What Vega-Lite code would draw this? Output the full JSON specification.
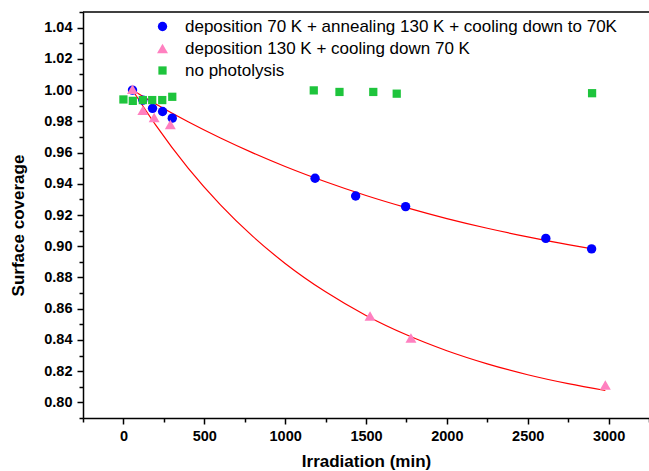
{
  "$schema": "https://vega.github.io/schema/vega-lite/v6.json",
  "autosize": "none",
  "width": 566,
  "height": 406,
  "padding": {"left": 83, "top": 12, "right": 0, "bottom": 53},
  "background": "white",
  "config": {
    "view": {"stroke": null},
    "font": "Liberation Sans",
    "axis": {
      "grid": false,
      "domainColor": "black",
      "domainWidth": 1.5,
      "tickColor": "black",
      "tickWidth": 1.5,
      "labelFont": "Liberation Sans",
      "labelFontWeight": "bold",
      "labelFontSize": 14.5,
      "labelColor": "black",
      "titleFont": "Liberation Sans",
      "titleFontWeight": "bold",
      "titleFontSize": 17,
      "titleColor": "black"
    }
  },
  "datasets": {
    "points": [
      {"series": "A", "x": 56, "y": 1.0},
      {"series": "A", "x": 120, "y": 0.9936},
      {"series": "A", "x": 180, "y": 0.9883},
      {"series": "A", "x": 242, "y": 0.9863},
      {"series": "A", "x": 302, "y": 0.982},
      {"series": "A", "x": 1185, "y": 0.9435},
      {"series": "A", "x": 1436, "y": 0.9322},
      {"series": "A", "x": 1745, "y": 0.9254},
      {"series": "A", "x": 2612, "y": 0.905},
      {"series": "A", "x": 2895, "y": 0.8983},
      {"series": "B", "x": 56, "y": 1.0006},
      {"series": "B", "x": 120, "y": 0.987},
      {"series": "B", "x": 190, "y": 0.9825},
      {"series": "B", "x": 290, "y": 0.978},
      {"series": "B", "x": 1525, "y": 0.8553},
      {"series": "B", "x": 1778, "y": 0.8412},
      {"series": "B", "x": 2980, "y": 0.8112},
      {"series": "C", "x": 0, "y": 0.994},
      {"series": "C", "x": 58, "y": 0.9931},
      {"series": "C", "x": 120, "y": 0.9936},
      {"series": "C", "x": 178, "y": 0.9936},
      {"series": "C", "x": 240, "y": 0.9936},
      {"series": "C", "x": 302, "y": 0.9957},
      {"series": "C", "x": 1177, "y": 0.9998},
      {"series": "C", "x": 1336, "y": 0.9988},
      {"series": "C", "x": 1545, "y": 0.9988},
      {"series": "C", "x": 1690, "y": 0.9977},
      {"series": "C", "x": 2898, "y": 0.998}
    ],
    "fits": [
      {"curve": "A", "x": 50, "y": 1.0004},
      {"curve": "A", "x": 200, "y": 0.9911},
      {"curve": "A", "x": 400, "y": 0.9797},
      {"curve": "A", "x": 600, "y": 0.9693},
      {"curve": "A", "x": 800, "y": 0.9598},
      {"curve": "A", "x": 1000, "y": 0.9511},
      {"curve": "A", "x": 1250, "y": 0.9413},
      {"curve": "A", "x": 1500, "y": 0.9325},
      {"curve": "A", "x": 1750, "y": 0.9247},
      {"curve": "A", "x": 2000, "y": 0.9177},
      {"curve": "A", "x": 2250, "y": 0.9115},
      {"curve": "A", "x": 2500, "y": 0.906},
      {"curve": "A", "x": 2750, "y": 0.901},
      {"curve": "A", "x": 2900, "y": 0.8983},
      {"curve": "B", "x": 50, "y": 1.001},
      {"curve": "B", "x": 200, "y": 0.9775},
      {"curve": "B", "x": 400, "y": 0.95},
      {"curve": "B", "x": 600, "y": 0.9265},
      {"curve": "B", "x": 800, "y": 0.9063},
      {"curve": "B", "x": 1000, "y": 0.889},
      {"curve": "B", "x": 1250, "y": 0.8708},
      {"curve": "B", "x": 1500, "y": 0.8557},
      {"curve": "B", "x": 1750, "y": 0.8433},
      {"curve": "B", "x": 2000, "y": 0.8331},
      {"curve": "B", "x": 2250, "y": 0.8247},
      {"curve": "B", "x": 2500, "y": 0.8177},
      {"curve": "B", "x": 2750, "y": 0.812},
      {"curve": "B", "x": 2980, "y": 0.8076}
    ],
    "frame": [
      {"x": -250, "x2": 3250, "y": 1.05}
    ]
  },
  "encoding": {
    "x": {
      "field": "x", "type": "quantitative",
      "scale": {"domain": [-250, 3250], "nice": false, "zero": false},
      "axis": {
        "title": "Irradiation (min)",
        "values": [-250, 0, 250, 500, 750, 1000, 1250, 1500, 1750, 2000, 2250, 2500, 2750, 3000, 3250],
        "labelExpr": "datum.value % 500 === 0 ? datum.label : ''",
        "format": "d",
        "tickSize": {"condition": {"test": "datum.value % 500 === 0", "value": 6}, "value": 4},
        "labelPadding": 5,
        "titlePadding": 11
      }
    },
    "y": {
      "field": "y", "type": "quantitative",
      "scale": {"domain": [0.79, 1.05], "nice": false, "zero": false},
      "axis": {
        "title": "Surface coverage",
        "titleY": 213,
        "values": [0.79, 0.8, 0.81, 0.82, 0.83, 0.84, 0.85, 0.86, 0.87, 0.88, 0.89, 0.9, 0.91, 0.92, 0.93, 0.94, 0.95, 0.96, 0.97, 0.98, 0.99, 1.0, 1.01, 1.02, 1.03, 1.04, 1.05],
        "labelExpr": "round(datum.value * 100) % 2 === 0 && datum.value < 1.045 ? format(datum.value, '.2f') : ''",
        "tickSize": {"condition": {"test": "round(datum.value * 100) % 2 === 0", "value": 6}, "value": 4},
        "labelPadding": 5,
        "titlePadding": 16
      }
    }
  },
  "layer": [
    {
      "data": {"name": "frame"},
      "mark": {"type": "rule", "color": "black", "strokeWidth": 1.5},
      "encoding": {
        "x2": {"field": "x2"}
      }
    },
    {
      "data": {"name": "fits"},
      "mark": {"type": "line", "color": "#ff0000", "strokeWidth": 1.2, "interpolate": "monotone"},
      "encoding": {
        "detail": {"field": "curve"}
      }
    },
    {
      "data": {"name": "points"},
      "mark": {"type": "point", "filled": true, "opacity": 1},
      "encoding": {
        "color": {
          "field": "series", "type": "nominal",
          "scale": {"domain": ["A", "B", "C"], "range": ["#0000ff", "#ff80c0", "#1ec43c"]},
          "legend": {
            "title": null,
            "orient": "none",
            "legendX": 71,
            "legendY": 6,
            "labelExpr": "datum.value === 'A' ? 'deposition 70 K + annealing 130 K + cooling down to 70K' : datum.value === 'B' ? 'deposition 130 K + cooling down 70 K' : 'no photolysis'",
            "labelFont": "Liberation Sans",
            "labelFontSize": 17,
            "labelColor": "black",
            "labelOffset": 14,
            "rowPadding": 4,
            "labelLimit": 600
          }
        },
        "shape": {
          "field": "series", "type": "nominal",
          "scale": {"domain": ["A", "B", "C"], "range": ["circle", "triangle-up", "square"]},
          "legend": null
        },
        "size": {
          "field": "series", "type": "nominal",
          "scale": {"type": "ordinal", "domain": ["A", "B", "C"], "range": [88, 120, 68]},
          "legend": null
        }
      }
    }
  ]
}
